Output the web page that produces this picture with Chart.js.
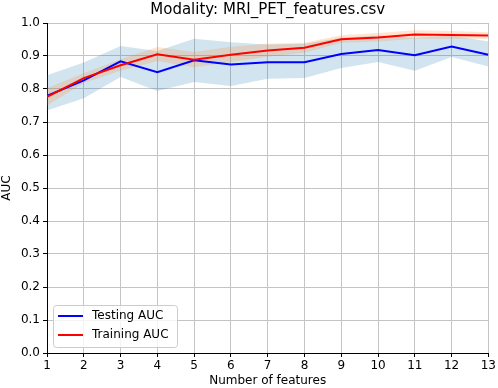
<!DOCTYPE html>
<html>
<head>
<meta charset="utf-8">
<script src="https://cdn.jsdelivr.net/npm/chart.js@4"></script>
<style>
  html, body { margin: 0; padding: 0; background: #fff; }
  #chart { display: block; }
</style>
</head>
<body>
<canvas id="chart" width="498" height="388"></canvas>
<script>
// Datos
const numFeatures = [1,2,3,4,5,6,7,8,9,10,11,12,13];
const testingAUC = [0.779,0.826,0.884,0.851,0.887,0.874,0.881,0.881,0.906,0.918,0.902,0.929,0.904];
const testingUpper = [0.842,0.880,0.930,0.915,0.952,0.942,0.935,0.937,0.955,0.962,0.955,0.962,0.944];
const testingLower = [0.735,0.772,0.836,0.794,0.821,0.809,0.831,0.833,0.864,0.882,0.855,0.897,0.868];
const trainingAUC = [0.776,0.833,0.872,0.905,0.889,0.904,0.917,0.925,0.951,0.956,0.965,0.964,0.962];
const trainingUpper = [0.803,0.848,0.890,0.927,0.912,0.928,0.937,0.940,0.963,0.970,0.978,0.976,0.972];
const trainingLower = [0.750,0.818,0.855,0.885,0.866,0.882,0.898,0.910,0.940,0.944,0.952,0.952,0.952];
const yTicks = [0,0.1,0.2,0.3,0.4,0.5,0.6,0.7,0.8,0.9,1.0];

const FONT = "'DejaVu Sans', sans-serif";
const pts = (ys) => numFeatures.map((x, i) => ({x: x, y: ys[i]}));

const line = (label, ys, color) => ({
    label: label, data: pts(ys), borderColor: color, backgroundColor: color,
    borderWidth: 2, pointRadius: 0, fill: false, tension: 0
});
const band = (ys, color, fill) => ({
    label: "", data: pts(ys), borderWidth: 0, borderColor: "rgba(0,0,0,0)",
    backgroundColor: color, pointRadius: 0, fill: fill, tension: 0
});

// leyenda dentro del area, abajo a la izquierda
const insideLegend = {
    id: "insideLegend",
    afterDraw(chart) {
        const ctx = chart.ctx, a = chart.chartArea;
        const x = a.left + 6, y = a.bottom - 48, w = 124, h = 42;
        ctx.save();
        ctx.fillStyle = "rgba(255,255,255,0.8)";
        ctx.strokeStyle = "#cccccc";
        ctx.lineWidth = 1;
        ctx.beginPath();
        ctx.roundRect(x + 0.5, y + 0.5, w, h, 3);
        ctx.fill(); ctx.stroke();
        const items = [["Testing AUC", "#0000ff"], ["Training AUC", "#ff0000"]];
        ctx.font = "12px " + FONT;
        ctx.textBaseline = "middle";
        items.forEach((it, i) => {
            const yy = y + 11 + i * 19;
            ctx.strokeStyle = it[1]; ctx.lineWidth = 2;
            ctx.beginPath(); ctx.moveTo(x + 5, yy); ctx.lineTo(x + 30, yy); ctx.stroke();
            ctx.fillStyle = "#000"; ctx.fillText(it[0], x + 39, yy);
        });
        ctx.restore();
    }
};

new Chart("chart", {
    type: "line",
    data: {
        datasets: [
            line("Training AUC", trainingAUC, "#ff0000"),
            line("Testing AUC", testingAUC, "#0000ff"),
            band(trainingUpper, "rgba(255,127,14,0.2)", "+1"),
            band(trainingLower, "rgba(255,127,14,0.2)", false),
            band(testingUpper, "rgba(31,119,180,0.2)", "+1"),
            band(testingLower, "rgba(31,119,180,0.2)", false)
        ]
    },
    options: {
        responsive: false,
        animation: false,
        layout: { padding: { left: 0, right: 7, top: 0, bottom: 0 } },
        plugins: {
            legend: { display: false },
            tooltip: { enabled: false },
            title: {
                display: true,
                fullSize: false,
                text: "Modality: MRI_PET_features.csv",
                color: "#000",
                font: { family: FONT, size: 15, weight: "normal" },
                padding: { top: 1, bottom: 4 }
            }
        },
        scales: {
            x: {
                type: "linear", min: 1, max: 13,
                ticks: { stepSize: 1, color: "#000", font: { family: FONT, size: 12 }, padding: 2, maxRotation: 0 },
                grid: { color: "#c4c4c4", lineWidth: 1, tickLength: 4, tickColor: "#000" },
                border: { color: "#000", width: 1 },
                title: { display: true, text: "Number of features", color: "#000", font: { family: FONT, size: 12 }, padding: 0 },
                afterFit(s) { s.height = 35; }
            },
            y: {
                min: 0, max: 1,
                afterBuildTicks(s) { s.ticks = yTicks.map(v => ({value: v})); },
                ticks: { color: "#000", font: { family: FONT, size: 12 }, padding: 3,
                    callback: v => Number(v).toFixed(1) },
                grid: { color: "#c4c4c4", lineWidth: 1, tickLength: 4, tickColor: "#000" },
                border: { color: "#000", width: 1 },
                title: { display: true, text: "AUC", color: "#000", font: { family: FONT, size: 12 }, padding: 0 },
                afterFit(s) { s.width = 47; }
            }
        }
    },
    plugins: [insideLegend]
});
</script>
</body>
</html>
